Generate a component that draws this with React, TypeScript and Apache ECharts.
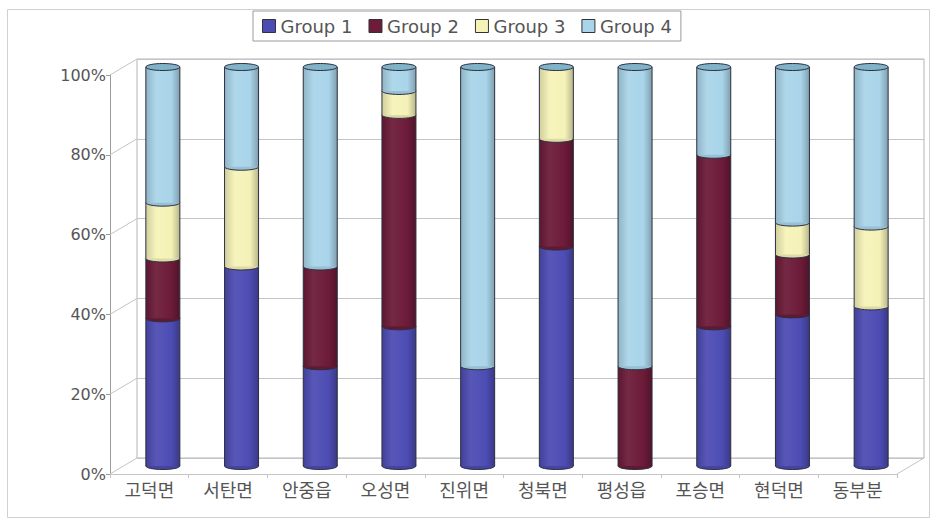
import React, { useEffect, useRef } from "react";
import * as echarts from "echarts";

// Districts on the category axis
const categories = ["고덕면", "서탄면", "안중읍", "오성면", "진위면", "청북면", "평성읍", "포승면", "현덕면", "동부분"];

// Share of each group per district (%)
const group1 = [37, 50, 25, 35, 25, 55, 0, 35, 38, 40];
const group2 = [15, 0, 25, 53, 0, 27, 25, 43, 15, 0];
const group3 = [14, 25, 0, 6, 0, 18, 0, 0, 8, 20];
const group4 = [34, 25, 50, 6, 75, 0, 75, 22, 39, 40];

const seriesNames = ["Group 1", "Group 2", "Group 3", "Group 4"];
const yTicks = [0, 20, 40, 60, 80, 100];

const groups = [group1, group2, group3, group4];
const colors = ["#4d4cb3", "#6c1b38", "#f5f2b8", "#a9d4e9"];
const capColor = "#80b3c8";
const outline = "#2b2f3f";

// depth of the 3D box (back wall offset from the front plane)
const DEPTH_X = 27;
const DEPTH_Y = -16;
const BAR_W = 34;
const RY = 3.5;

function shade(hex: string, f: number): string {
  const n = parseInt(hex.slice(1), 16);
  let r = (n >> 16) & 255, g = (n >> 8) & 255, b = n & 255;
  if (f < 0) {
    r = Math.round(r * (1 + f)); g = Math.round(g * (1 + f)); b = Math.round(b * (1 + f));
  } else {
    r = Math.round(r + (255 - r) * f); g = Math.round(g + (255 - g) * f); b = Math.round(b + (255 - b) * f);
  }
  return `rgb(${r},${g},${b})`;
}

export default function App() {
  const ref = useRef<HTMLDivElement>(null);

  useEffect(() => {
    if (!ref.current) return;
    const chart = echarts.init(ref.current, null, { renderer: "svg" });

    // cumulative stacking: [category, base, top]
    const stacked: number[][][] = groups.map(() => []);
    categories.forEach((_, i) => {
      let acc = 0;
      groups.forEach((g, s) => {
        stacked[s].push([i, acc, acc + g[i]]);
        acc += g[i];
      });
    });

    const cylinderSeries = groups.map((_, s) => ({
      type: "custom",
      name: seriesNames[s],
      xAxisIndex: 0,
      yAxisIndex: 0,
      clip: false,
      itemStyle: { color: colors[s], borderColor: "#333", borderWidth: 1 },
      encode: { x: 0, y: [1, 2] },
      data: stacked[s],
      renderItem: (params: any, api: any) => {
        const i = api.value(0);
        const b = api.value(1);
        const t = api.value(2);
        const p0 = api.coord([i, b]);
        const p1 = api.coord([i, t]);
        const cx = p0[0] + DEPTH_X / 2;
        const yb = p0[1] + DEPTH_Y / 2;
        const yt = p1[1] + DEPTH_Y / 2;
        const rx = BAR_W / 2;
        const c = colors[s];
        const children: any[] = [];
        if (t > b) {
          const grad = new echarts.graphic.LinearGradient(0, 0, 1, 0, [
            { offset: 0, color: shade(c, -0.15) },
            { offset: 0.3, color: shade(c, 0.06) },
            { offset: 0.75, color: c },
            { offset: 1, color: shade(c, -0.25) },
          ]);
          children.push({
            type: "ellipse",
            shape: { cx, cy: yb, rx, ry: RY },
            style: { fill: shade(c, -0.1), stroke: outline, lineWidth: 1 },
          });
          children.push({
            type: "rect",
            shape: { x: cx - rx, y: yt, width: BAR_W, height: yb - yt },
            style: { fill: grad },
          });
          children.push({
            type: "line",
            shape: { x1: cx - rx, y1: yt, x2: cx - rx, y2: yb },
            style: { stroke: outline, lineWidth: 1 },
          });
          children.push({
            type: "line",
            shape: { x1: cx + rx, y1: yt, x2: cx + rx, y2: yb },
            style: { stroke: outline, lineWidth: 1 },
          });
        }
        if (s === groups.length - 1) {
          children.push({
            type: "ellipse",
            shape: { cx, cy: yt, rx, ry: RY },
            style: { fill: capColor, stroke: outline, lineWidth: 1 },
          });
        }
        return { type: "group", children };
      },
    }));

    // side wall diagonals at each tick and the floor's right edge
    const wallSeries = {
      type: "custom",
      name: "wall",
      xAxisIndex: 0,
      yAxisIndex: 0,
      clip: false,
      silent: true,
      z: 1,
      data: yTicks.map((v) => [0, v, 0]).concat([[categories.length - 1, 0, 1]]),
      renderItem: (params: any, api: any) => {
        const p = api.coord([api.value(0), api.value(1)]);
        const half = api.size([1, 0])[0] / 2;
        const x0 = api.value(2) === 1 ? p[0] + half : p[0] - half;
        return {
          type: "line",
          shape: { x1: x0, y1: p[1], x2: x0 + DEPTH_X, y2: p[1] + DEPTH_Y },
          style: { stroke: "#c4c4c4", lineWidth: 1 },
        };
      },
    };

    chart.setOption({
      animation: false,
      backgroundColor: "#ffffff",
      graphic: [
        {
          type: "rect",
          shape: { x: 7.5, y: 9.5, width: 922, height: 508 },
          style: { fill: "none", stroke: "#d0d0d0", lineWidth: 1 },
          silent: true,
        },
      ],
      legend: {
        left: 253,
        top: 11,
        padding: [6, 9],
        borderColor: "#9a9a9a",
        borderWidth: 1,
        itemWidth: 13,
        itemHeight: 13,
        itemGap: 16,
        icon: "rect",
        textStyle: { color: "#555", fontSize: 18, fontFamily: "DejaVu Sans" },
        data: seriesNames.map((n, s) => ({
          name: n,
          itemStyle: { color: colors[s], borderColor: "#333", borderWidth: 1 },
        })),
      },
      grid: [
        { left: 110, top: 75, width: 787, height: 399 },
        {
          left: 137, top: 59, width: 787, height: 399,
          show: true, borderColor: "#b4b4b4", borderWidth: 1, backgroundColor: "transparent",
        },
      ],
      xAxis: [
        {
          type: "category",
          gridIndex: 0,
          data: categories,
          axisLine: { show: true, lineStyle: { color: "#c4c4c4" } },
          axisTick: { show: true, length: 4, lineStyle: { color: "#c4c4c4" } },
          axisLabel: { color: "#555", fontSize: 18, fontFamily: "Noto Sans CJK KR", margin: 6 },
          splitLine: { show: false },
        },
        {
          type: "category",
          gridIndex: 1,
          data: categories,
          show: false,
        },
      ],
      yAxis: [
        {
          type: "value",
          gridIndex: 0,
          min: 0,
          max: 100,
          interval: 20,
          axisLine: { show: true, lineStyle: { color: "#9a9a9a" } },
          axisTick: { show: true, length: 4, lineStyle: { color: "#9a9a9a" } },
          axisLabel: { color: "#555", fontSize: 16, fontFamily: "DejaVu Sans", margin: 4, formatter: "{value}%" },
          splitLine: { show: false },
        },
        {
          type: "value",
          gridIndex: 1,
          min: 0,
          max: 100,
          interval: 20,
          axisLine: { show: false },
          axisTick: { show: false },
          axisLabel: { show: false },
          splitLine: { show: true, lineStyle: { color: "#c4c4c4" } },
        },
      ],
      series: [wallSeries, ...cylinderSeries],
    });

    return () => chart.dispose();
  }, []);

  return (
    <div
      ref={ref}
      style={{ position: "fixed", left: 0, top: 0, width: 935, height: 525 }}
    />
  );
}
